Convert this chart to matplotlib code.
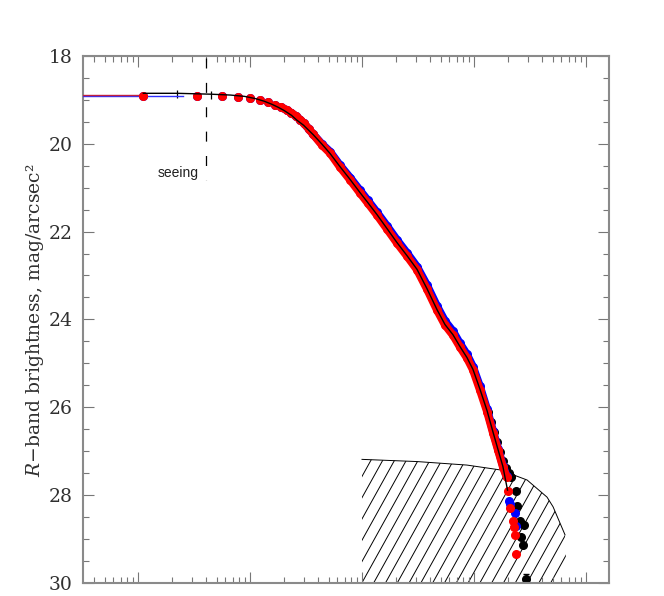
import numpy as np
import matplotlib
matplotlib.use("Agg")
import matplotlib.pyplot as plt
from matplotlib.patches import Polygon
from matplotlib.ticker import LogLocator, MultipleLocator, NullFormatter, FormatStrFormatter

# ---------------- data (radius in arcsec, surface brightness in mag/arcsec^2) -------------
red_r = [0.111, 0.333, 0.556, 0.778, 1.00, 1.22, 1.44, 1.67, 1.89, 2.11, 2.33, 2.56, 2.78,
         3.00, 3.33, 3.63, 4.37, 5.15, 6.32, 7.77, 9.53, 11.2, 13.5, 16.6, 20.4, 25.1, 30.8,
         37.8, 46.5, 54.8, 64.5, 74.5, 86.0, 97.3, 112, 130, 147, 163, 180, 195]
red_mag = [18.91, 18.91, 18.92, 18.93, 18.96, 19.00, 19.05, 19.11, 19.17, 19.23, 19.30, 19.37,
           19.45, 19.53, 19.66, 19.78, 20.03, 20.21, 20.53, 20.82, 21.12, 21.35, 21.62, 21.94,
           22.26, 22.56, 22.87, 23.31, 23.79, 24.13, 24.36, 24.63, 24.88, 25.15, 25.60, 26.10,
           26.59, 26.98, 27.36, 27.60]
red_out_r = [199, 208, 220, 226, 230, 236]
red_out_mag = [27.90, 28.30, 28.59, 28.72, 28.91, 29.34]

blue_r = [0.111, 0.333, 0.556, 0.778, 1.00, 1.22, 1.44, 1.67, 1.89, 2.11, 2.33, 2.56, 2.78,
          3.00, 3.33, 3.63, 4.37, 5.15, 6.32, 7.77, 9.53, 11.2, 13.5, 16.6, 20.4, 25.1, 30.8,
          37.8, 46.5, 54.8, 64.5, 74.5, 86.0, 97.3, 112, 130, 147, 163, 180, 195]
blue_mag = [18.91, 18.91, 18.92, 18.93, 18.96, 19.00, 19.05, 19.11, 19.17, 19.23, 19.30, 19.37,
            19.45, 19.53, 19.66, 19.78, 20.01, 20.18, 20.49, 20.77, 21.06, 21.29, 21.56, 21.87,
            22.19, 22.49, 22.80, 23.22, 23.70, 24.04, 24.27, 24.55, 24.80, 25.08, 25.52, 26.05,
            26.55, 26.95, 27.33, 27.58]
blue_out_r = [205, 208, 231, 234]
blue_out_mag = [28.13, 28.21, 28.41, 28.71]

black_in_r = [0.222, 0.444]
black_in_mag = [18.87, 18.88]
black_in_err = [0.09, 0.09]

black_r = [132, 141, 150, 160, 170, 180, 192, 204, 213, 234, 242, 256, 279, 260, 271, 288]
black_mag = [26.11, 26.34, 26.56, 26.79, 27.02, 27.23, 27.39, 27.50, 27.59, 27.90, 28.25,
             28.59, 28.68, 28.96, 29.14, 29.91]
black_err = [0, 0, 0, 0, 0, 0, 0, 0, 0, 0, 0, 0, 0, 0, 0, 0.11]

model_r = [0.111, 0.222, 0.444, 0.667, 0.889, 1.11, 1.33, 1.56, 1.78, 2.0, 2.33, 2.6, 3.0,
           3.67, 4.37, 5.15, 6.32, 7.77, 9.53, 11.2, 13.5, 16.6, 20.4, 25.1, 30.8, 37.8, 46.5,
           54.8, 64.5, 74.5, 86, 97.3, 112, 130, 147, 163, 180, 198]
model_mag = [18.85, 18.85, 18.87, 18.89, 18.92, 18.97, 19.03, 19.10, 19.17, 19.24, 19.35,
             19.46, 19.58, 19.80, 20.01, 20.22, 20.52, 20.81, 21.11, 21.34, 21.61, 21.93, 22.25,
             22.55, 22.86, 23.30, 23.78, 24.12, 24.35, 24.62, 24.87, 25.14, 25.58, 26.08, 26.57,
             26.97, 27.35, 27.89]

red_core_r = [0.0319, 0.111]
red_core_mag = [18.88, 18.88]
blue_core_r = [0.0319, 0.25]
blue_core_mag = [18.92, 18.92]

sky_r = [9.94, 30.8, 86, 170, 296, 446, 505, 646]
sky_mag = [27.19, 27.24, 27.32, 27.43, 27.66, 28.05, 28.27, 28.91]
sky_close_r = [659, 607, 9.94]
sky_close_mag = [29.48, 30.0, 30.0]

seeing_r = 0.40
seeing_mag = [18.05, 20.82]

x_limits = [0.0319, 1595]
y_limits = [30, 18]

ylabel = "$R$\u2212band brightness, mag/arcsec\u00b2"

# ---------------- figure -------------
plt.rcParams['mathtext.fontset'] = 'dejavuserif'
W, H = 664, 596
fig = plt.figure(figsize=(W / 100, H / 100), dpi=100)
ax = fig.add_axes([82.7 / W, 13.3 / H, 526.3 / W, 526.7 / H])
ax.set_xscale('log')
ax.set_xlim(*x_limits)
ax.set_ylim(*y_limits)

# hatched sky-uncertainty region
poly_xy = list(zip(sky_r + sky_close_r, sky_mag + sky_close_mag))
clip = Polygon(poly_xy, closed=True, transform=ax.transData, facecolor='none',
               edgecolor='none')
ax.add_patch(clip)
fig.canvas.draw()
corner = ax.transAxes.inverted().transform(ax.transData.transform((sky_close_r[-1], sky_close_mag[-1])))
slope = 1.8
spacing = 11.8 / 526.3
for k in range(-60, 60):
    x0 = corner[0] + k * spacing
    ln, = ax.plot([x0, x0 + 1.0 / slope], [0, 1], color='black', lw=0.7,
                  transform=ax.transAxes, zorder=1)
    ln.set_clip_path(clip)
ax.plot(sky_r, sky_mag, color='black', lw=0.7, zorder=1)

# black points
ax.errorbar(black_in_r, black_in_mag, yerr=black_in_err, fmt='none', ecolor='black',
            elinewidth=0.9, zorder=2)
ax.errorbar(black_r, black_mag, yerr=black_err, fmt='o', color='black', ms=5.5,
            mec='black', elinewidth=0.9, capsize=2, zorder=2)

# blue profile
ax.plot(blue_core_r, blue_core_mag, color='#3030ff', lw=1.0, zorder=3)
ax.plot(blue_r[8:], blue_mag[8:], color='blue', lw=5.8, solid_capstyle='round', zorder=3)
ax.plot(blue_r, blue_mag, 'o', color='blue', ms=5.5, zorder=3)
ax.plot(blue_out_r, blue_out_mag, 'o', color='blue', ms=5.5, zorder=3)

# red profile
ax.plot(red_core_r, red_core_mag, color='#c02040', lw=1.0, zorder=4)
ax.plot(red_r[8:], red_mag[8:], color='red', lw=5.8, solid_capstyle='round', zorder=4)
ax.plot(red_r, red_mag, 'o', color='red', ms=5.5, zorder=4)
ax.plot(red_out_r, red_out_mag, 'o', color='red', ms=5.5, zorder=4)

# black model line
ax.plot(model_r, model_mag, color='black', lw=1.0, zorder=5)

# seeing marker
ax.plot([seeing_r, seeing_r], seeing_mag, color='black', lw=0.9, dashes=(8, 11.5), zorder=5)
ax.text(0.343, 20.75, 'seeing', ha='right', va='baseline', fontsize=10,
        family='Liberation Sans', color='#202020')

# axes styling
for sp in ax.spines.values():
    sp.set_color('#8a8a8a')
    sp.set_linewidth(1.5)
ax.xaxis.set_major_locator(LogLocator(base=10, numticks=20))
ax.xaxis.set_minor_locator(LogLocator(base=10, subs=np.arange(2, 10), numticks=20))
ax.xaxis.set_major_formatter(NullFormatter())
ax.xaxis.set_minor_formatter(NullFormatter())
ax.yaxis.set_major_locator(MultipleLocator(2))
ax.yaxis.set_minor_locator(MultipleLocator(0.5))
ax.yaxis.set_major_formatter(FormatStrFormatter('%d'))
ax.tick_params(which='both', direction='in', top=True, right=True, color='#777777',
               width=0.8, labelbottom=False)
ax.tick_params(which='major', length=8)
ax.tick_params(which='minor', length=4.3)
ax.tick_params(axis='y', which='major', pad=7.5, labelsize=13.5, labelcolor='#303030')
for lab in ax.get_yticklabels():
    lab.set_family('DejaVu Serif')

fig.text(35 / W, 1 - 319.7 / H, ylabel, rotation=90, ha='center', va='center',
         fontsize=13.5, family='DejaVu Serif', color='#303030')

fig.savefig('out.png', dpi=100)
